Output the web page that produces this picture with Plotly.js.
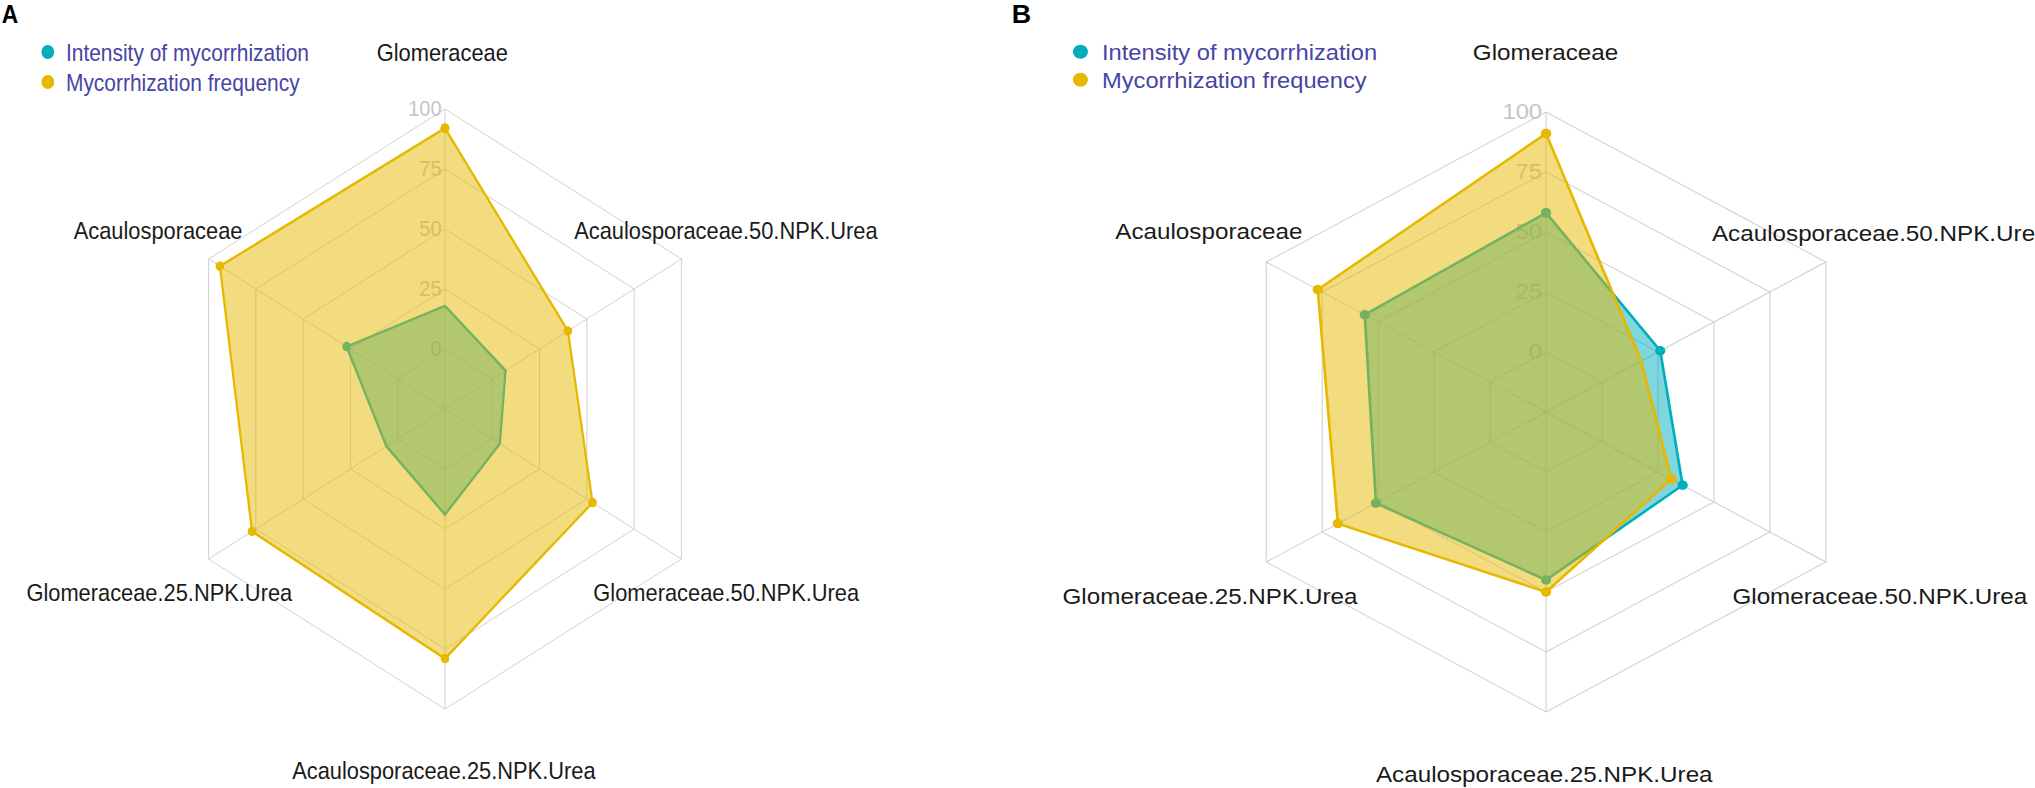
<!DOCTYPE html>
<html>
<head>
<meta charset="utf-8">
<script src="https://cdn.plot.ly/plotly-3.0.1.min.js"></script>
<style>
  html, body { margin:0; padding:0; background:#fff; overflow:hidden; width:2035px; height:788px; }
  #panelA { position:absolute; left:0; top:0; width:1099px; height:788px; transform-origin:0 0; transform:scaleX(0.91); }
  #panelB { position:absolute; left:1000px; top:0; width:961px; height:788px; transform-origin:0 0; transform:scaleX(1.077); }
</style>
</head>
<body>
<div id="panelA"></div>
<div id="panelB"></div>
<script>
// ---- data ----
const categories = ['Glomeraceae', 'Acaulosporaceae.50.NPK.Urea', 'Glomeraceae.50.NPK.Urea',
                    'Acaulosporaceae.25.NPK.Urea', 'Glomeraceae.25.NPK.Urea', 'Acaulosporaceae'];
const seriesNames = ['Intensity of mycorrhization', 'Mycorrhization frequency'];
const intensityA = [18, 7, 4, 19, 6, 27];
const frequencyA = [92, 40, 53, 79, 77, 94];
const intensityB = [58, 26, 36, 45, 51, 56];
const frequencyB = [91, 17.5, 31, 50, 68, 77];
const radialTicks = [0, 25, 50, 75, 100];
const panelLetters = ['A', 'B'];

// ---- styles / layout ----
const colors = ['#00AFBB', '#E7B800'];
const fills = ['rgba(0,175,187,0.5)', 'rgba(231,184,0,0.5)'];
const gridColor = '#cfcfcf';
const fontFamily = 'Liberation Sans, Arial, sans-serif';

// label positions (paper coords) in the same order as categories
const labelPosA = [[0.442,0.934],[0.726,0.708],[0.727,0.2475],[0.444,0.0228],[0.160,0.2475],[0.158,0.708]];
const labelPosB = [[0.5266,0.934],[0.8502,0.7043],[0.8498,0.2424],[0.5256,0.0165],[0.2024,0.2424],[0.2014,0.7056]];

function closed(a) { return a.concat([a[0]]); }

function buildTraces(intensity, frequency) {
  const vals = [intensity, frequency];
  const traces = [];
  vals.forEach((v, i) => {
    traces.push({
      type: 'scatterpolar', r: closed(v), theta: closed(categories),
      mode: 'lines+markers', fill: 'toself', fillcolor: fills[i],
      line: { color: colors[i], width: 2.5 },
      marker: { color: colors[i], size: 9.5 },
      name: seriesNames[i], showlegend: false, hoverinfo: 'skip'
    });
  });
  vals.forEach((v, i) => {
    traces.push({
      type: 'scatterpolar', r: [null], theta: [null], mode: 'markers',
      marker: { color: colors[i], size: 14 }, name: seriesNames[i], showlegend: true,
      legend: i === 0 ? 'legend' : 'legend2'
    });
  });
  return traces;
}

function buildLayout(o) {
  const ann = categories.map((c, i) => ({
    text: c, xref: 'paper', yref: 'paper', x: o.labelPos[i][0], y: o.labelPos[i][1],
    xanchor: 'center', yanchor: 'middle', showarrow: false,
    font: { family: fontFamily, size: o.labelSize, color: '#1a1a1a' }
  }));
  ann.push({
    text: '<b>' + o.letter + '</b>', xref: 'paper', yref: 'paper', x: o.letterX, y: 0.982,
    xanchor: 'left', yanchor: 'middle', showarrow: false,
    font: { family: fontFamily, size: 25, color: '#000' }
  });
  const legendBase = {
    x: o.legendX, xanchor: 'left', yanchor: 'top',
    bgcolor: 'rgba(0,0,0,0)', font: { family: fontFamily, size: o.legendSize, color: '#4545a5' },
    tracegroupgap: 0, itemwidth: 30
  };
  return {
    width: o.width, height: 788, autosize: false,
    margin: { l: 0, r: 0, t: 0, b: 0 },
    paper_bgcolor: '#fff',
    showlegend: true,
    legend: Object.assign({}, legendBase, { y: o.legendY[0] }),
    legend2: Object.assign({}, legendBase, { y: o.legendY[1] }),
    polar: {
      domain: { x: o.domX, y: o.domY },
      bgcolor: '#fff',
      gridshape: 'linear',
      angularaxis: {
        type: 'category', categoryarray: categories, direction: 'clockwise', rotation: 90,
        showticklabels: false, ticks: '', showline: true, linecolor: gridColor, linewidth: 1,
        showgrid: true, gridcolor: gridColor, gridwidth: 1, layer: 'below traces'
      },
      radialaxis: {
        range: [-25, 100], tickvals: radialTicks, ticktext: radialTicks.map(String),
        angle: 90, tickangle: 90, side: 'counterclockwise', showline: false, ticks: '',
        showgrid: true, gridcolor: gridColor, gridwidth: 1,
        tickfont: { family: fontFamily, size: 22, color: '#c2c5ce' }, layer: 'below traces'
      }
    },
    annotations: ann
  };
}

Plotly.newPlot('panelA', buildTraces(intensityA, frequencyA), buildLayout({
  width: 1099, labelPos: labelPosA, labelSize: 24, legendSize: 23, letter: panelLetters[0], letterX: 0,
  legendX: 0.0296, legendY: [0.9613, 0.9232], domX: [0.17197, 0.71793], domY: [0.10025, 0.86168]
}), { staticPlot: true });

Plotly.newPlot('panelB', buildTraces(intensityB, frequencyB), buildLayout({
  width: 961, labelPos: labelPosB, labelSize: 22.5, legendSize: 22, letter: panelLetters[1], letterX: 0.0097,
  legendX: 0.0569, legendY: [0.9607, 0.9251], domX: [0.2154, 0.8398], domY: [0.09645, 0.85787]
}), { staticPlot: true });
</script>
</body>
</html>
